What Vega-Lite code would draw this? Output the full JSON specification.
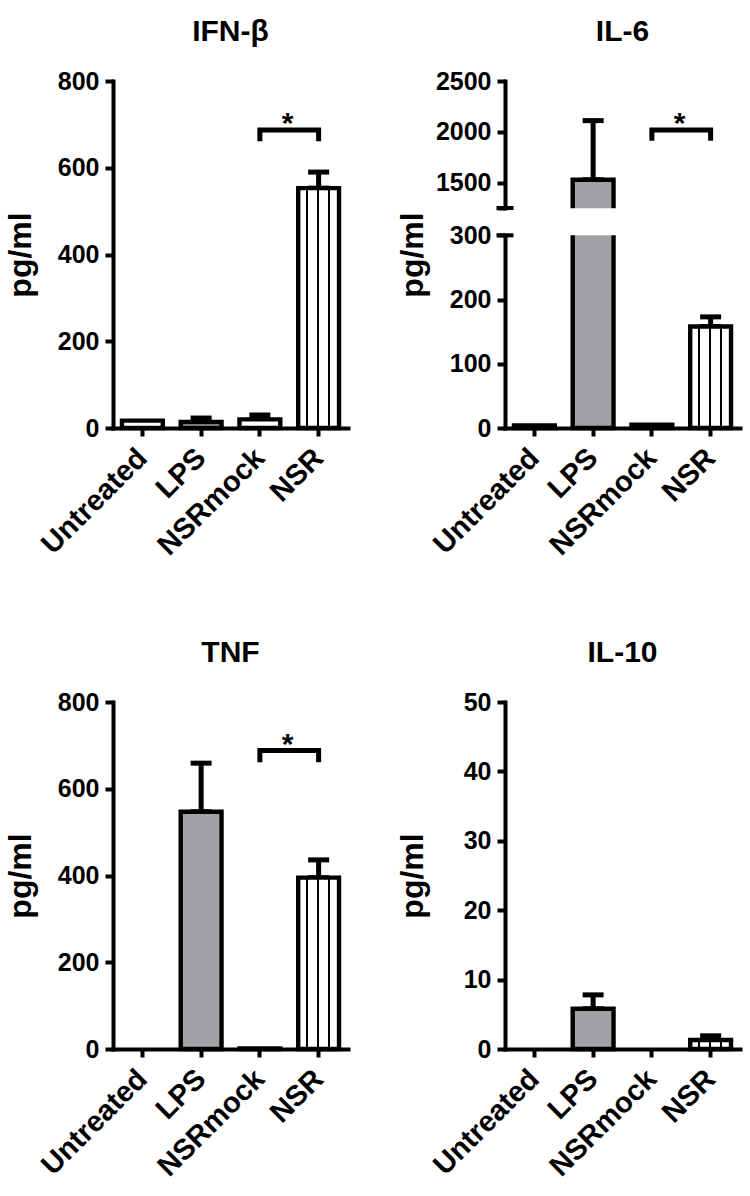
{
  "$schema": "https://vega.github.io/schema/vega-lite/v6.json",
  "padding": {"left": 4, "top": 17, "right": 5, "bottom": 5},
  "columns": 2,
  "spacing": {"column": 48, "row": 77},
  "datasets": {
    "bars": [
      {"panel": "IFN", "group": "Untreated", "value": 17, "hi": null},
      {"panel": "IFN", "group": "LPS", "value": 14, "hi": 23},
      {"panel": "IFN", "group": "NSRmock", "value": 20, "hi": 30},
      {"panel": "IFN", "group": "NSR", "value": 553, "hi": 590},
      {"panel": "IL6", "group": "Untreated", "value": 4, "hi": null},
      {"panel": "IL6", "group": "LPS", "value": 1528, "hi": 2110},
      {"panel": "IL6", "group": "NSRmock", "value": 5, "hi": null},
      {"panel": "IL6", "group": "NSR", "value": 158, "hi": 173},
      {"panel": "TNF", "group": "Untreated", "value": 0, "hi": null},
      {"panel": "TNF", "group": "LPS", "value": 547, "hi": 659},
      {"panel": "TNF", "group": "NSRmock", "value": 1, "hi": null},
      {"panel": "TNF", "group": "NSR", "value": 395, "hi": 436},
      {"panel": "IL10", "group": "Untreated", "value": 0, "hi": null},
      {"panel": "IL10", "group": "LPS", "value": 5.8, "hi": 7.8},
      {"panel": "IL10", "group": "NSRmock", "value": 0, "hi": null},
      {"panel": "IL10", "group": "NSR", "value": 1.3, "hi": 1.9}
    ],
    "brackets": [
      {"panel": "IFN", "group": "NSRmock", "value": 661, "step": 1},
      {"panel": "IFN", "group": "NSRmock", "value": 687, "step": 2},
      {"panel": "IFN", "group": "NSR", "value": 687, "step": 3},
      {"panel": "IFN", "group": "NSR", "value": 661, "step": 4},
      {"panel": "IL6", "group": "NSRmock", "value": 1911, "step": 1},
      {"panel": "IL6", "group": "NSRmock", "value": 2017, "step": 2},
      {"panel": "IL6", "group": "NSR", "value": 2017, "step": 3},
      {"panel": "IL6", "group": "NSR", "value": 1911, "step": 4},
      {"panel": "TNF", "group": "NSRmock", "value": 661, "step": 1},
      {"panel": "TNF", "group": "NSRmock", "value": 688, "step": 2},
      {"panel": "TNF", "group": "NSR", "value": 688, "step": 3},
      {"panel": "TNF", "group": "NSR", "value": 661, "step": 4}
    ],
    "stars": [
      {"panel": "IFN", "group": "NSR", "value": 687, "label": "*"},
      {"panel": "IL6", "group": "NSR", "value": 2017, "label": "*"},
      {"panel": "TNF", "group": "NSR", "value": 688, "label": "*"}
    ],
    "breaks": [
      {"panel": "IL6", "value": 300},
      {"panel": "IL6", "value": 1250}
    ]
  },
  "concat": [
    {
      "title": "IFN-β",
      "width": 235,
      "height": 347,
      "encoding": {
        "y": {"field": "value", "type": "quantitative", "scale": {"domain": [0, 800], "nice": false, "zero": false}, "axis": {"title": "pg/ml", "values": [0, 200, 400, 600, 800], "format": "d"}}
      },
      "layer": [
        {"data": {"name": "bars"}, "transform": [{"filter": "datum.panel == 'IFN' && isValid(datum.hi)"}],
         "mark": {"type": "errorbar", "color": "black", "thickness": 5, "size": 21, "ticks": {"color": "black", "opacity": 1}, "rule": {"color": "black", "opacity": 1}},
         "encoding": {"x": {"field": "group", "type": "nominal", "scale": {"domain": ["Untreated", "LPS", "NSRmock", "NSR"], "paddingInner": 0.305, "paddingOuter": 0.1525}, "axis": {"title": null}}, "y2": {"field": "hi"}}},
        {"data": {"name": "bars"}, "transform": [{"filter": "datum.panel == 'IFN'"}],
         "mark": {"type": "bar", "stroke": "black"},
         "encoding": {
           "x": {"field": "group", "type": "nominal", "scale": {"domain": ["Untreated", "LPS", "NSRmock", "NSR"], "paddingInner": 0.305, "paddingOuter": 0.1525}, "axis": {"title": null}},
           "fill": {"condition": {"test": "datum.group == 'NSR'", "value": {"gradient": "linear", "x1": 0, "y1": 0, "x2": 1, "y2": 0, "stops": [{"offset": 0, "color": "#ffffff"}, {"offset": 0.19, "color": "#ffffff"}, {"offset": 0.19, "color": "#000000"}, {"offset": 0.23, "color": "#000000"}, {"offset": 0.23, "color": "#ffffff"}, {"offset": 0.46, "color": "#ffffff"}, {"offset": 0.46, "color": "#000000"}, {"offset": 0.5, "color": "#000000"}, {"offset": 0.5, "color": "#ffffff"}, {"offset": 0.73, "color": "#ffffff"}, {"offset": 0.73, "color": "#000000"}, {"offset": 0.77, "color": "#000000"}, {"offset": 0.77, "color": "#ffffff"}, {"offset": 1, "color": "#ffffff"}]}}, "field": "group", "type": "nominal", "scale": {"domain": ["Untreated", "LPS", "NSRmock", "NSR"], "range": ["#ffffff", "#a2a2a6", "#ffffff", "#ffffff"]}, "legend": null},
           "strokeWidth": {"condition": {"test": "datum.value == 0", "value": 0}, "value": 4.4}
         }},
        {"data": {"name": "brackets"}, "transform": [{"filter": "datum.panel == 'IFN'"}],
         "mark": {"type": "line", "color": "black", "strokeWidth": 5, "strokeJoin": "miter", "strokeCap": "butt"},
         "encoding": {"x": {"field": "group", "type": "nominal", "scale": {"domain": ["Untreated", "LPS", "NSRmock", "NSR"], "paddingInner": 0.305, "paddingOuter": 0.1525}, "axis": {"title": null}}, "order": {"field": "step"}}},
        {"data": {"name": "stars"}, "transform": [{"filter": "datum.panel == 'IFN'"}],
         "mark": {"type": "text", "fontSize": 30, "fontWeight": "bold", "font": "Liberation Sans", "baseline": "alphabetic", "dy": 3, "xOffset": -31, "color": "black"},
         "encoding": {"x": {"field": "group", "type": "nominal", "scale": {"domain": ["Untreated", "LPS", "NSRmock", "NSR"], "paddingInner": 0.305, "paddingOuter": 0.1525}, "axis": {"title": null}}, "text": {"field": "label"}}}
      ]
    },
    {
      "title": "IL-6",
      "width": 235,
      "height": 347,
      "encoding": {
        "y": {"field": "value", "type": "quantitative", "scale": {"domain": [0, 300, 1250, 2500], "range": [347, 154.3, 127, 0], "nice": false, "zero": false}, "axis": {"title": "pg/ml", "values": [0, 100, 200, 300, 1250, 1500, 2000, 2500], "format": "d", "labelExpr": "datum.value == 1250 ? '' : datum.label", "domainDash": [192.7, 27.3, 400]}}
      },
      "layer": [
        {"data": {"name": "bars"}, "transform": [{"filter": "datum.panel == 'IL6' && isValid(datum.hi)"}],
         "mark": {"type": "errorbar", "color": "black", "thickness": 5, "size": 21, "ticks": {"color": "black", "opacity": 1}, "rule": {"color": "black", "opacity": 1}},
         "encoding": {"x": {"field": "group", "type": "nominal", "scale": {"domain": ["Untreated", "LPS", "NSRmock", "NSR"], "paddingInner": 0.305, "paddingOuter": 0.1525}, "axis": {"title": null}}, "y2": {"field": "hi"}}},
        {"data": {"name": "bars"}, "transform": [{"filter": "datum.panel == 'IL6'"}],
         "mark": {"type": "bar", "stroke": "black"},
         "encoding": {
           "x": {"field": "group", "type": "nominal", "scale": {"domain": ["Untreated", "LPS", "NSRmock", "NSR"], "paddingInner": 0.305, "paddingOuter": 0.1525}, "axis": {"title": null}},
           "fill": {"condition": {"test": "datum.group == 'NSR'", "value": {"gradient": "linear", "x1": 0, "y1": 0, "x2": 1, "y2": 0, "stops": [{"offset": 0, "color": "#ffffff"}, {"offset": 0.19, "color": "#ffffff"}, {"offset": 0.19, "color": "#000000"}, {"offset": 0.23, "color": "#000000"}, {"offset": 0.23, "color": "#ffffff"}, {"offset": 0.46, "color": "#ffffff"}, {"offset": 0.46, "color": "#000000"}, {"offset": 0.5, "color": "#000000"}, {"offset": 0.5, "color": "#ffffff"}, {"offset": 0.73, "color": "#ffffff"}, {"offset": 0.73, "color": "#000000"}, {"offset": 0.77, "color": "#000000"}, {"offset": 0.77, "color": "#ffffff"}, {"offset": 1, "color": "#ffffff"}]}}, "field": "group", "type": "nominal", "scale": {"domain": ["Untreated", "LPS", "NSRmock", "NSR"], "range": ["#ffffff", "#a2a2a6", "#ffffff", "#ffffff"]}, "legend": null},
           "strokeWidth": {"condition": {"test": "datum.value == 0", "value": 0}, "value": 4.4}
         }},
        {"data": {"name": "bars"}, "transform": [{"filter": "datum.panel == 'IL6' && datum.group == 'LPS'"}],
         "mark": {"type": "bar", "fill": "white", "stroke": "white", "strokeWidth": 8},
         "encoding": {
           "x": {"field": "group", "type": "nominal", "scale": {"domain": ["Untreated", "LPS", "NSRmock", "NSR"], "paddingInner": 0.305, "paddingOuter": 0.1525}, "axis": {"title": null}},
           "y": {"datum": 439, "type": "quantitative"},
           "y2": {"datum": 1100}
         }},
        {"data": {"name": "breaks"},
         "mark": {"type": "tick", "color": "black", "opacity": 1, "thickness": 4, "size": 17, "xOffset": -29.4},
         "encoding": {"x": {"datum": "Untreated", "type": "nominal", "scale": {"domain": ["Untreated", "LPS", "NSRmock", "NSR"], "paddingInner": 0.305, "paddingOuter": 0.1525}, "axis": {"title": null}}}},
        {"data": {"name": "brackets"}, "transform": [{"filter": "datum.panel == 'IL6'"}],
         "mark": {"type": "line", "color": "black", "strokeWidth": 5, "strokeJoin": "miter", "strokeCap": "butt"},
         "encoding": {"x": {"field": "group", "type": "nominal", "scale": {"domain": ["Untreated", "LPS", "NSRmock", "NSR"], "paddingInner": 0.305, "paddingOuter": 0.1525}, "axis": {"title": null}}, "order": {"field": "step"}}},
        {"data": {"name": "stars"}, "transform": [{"filter": "datum.panel == 'IL6'"}],
         "mark": {"type": "text", "fontSize": 30, "fontWeight": "bold", "font": "Liberation Sans", "baseline": "alphabetic", "dy": 3, "xOffset": -31, "color": "black"},
         "encoding": {"x": {"field": "group", "type": "nominal", "scale": {"domain": ["Untreated", "LPS", "NSRmock", "NSR"], "paddingInner": 0.305, "paddingOuter": 0.1525}, "axis": {"title": null}}, "text": {"field": "label"}}}
      ]
    },
    {
      "title": "TNF",
      "width": 235,
      "height": 347,
      "encoding": {
        "y": {"field": "value", "type": "quantitative", "scale": {"domain": [0, 800], "nice": false, "zero": false}, "axis": {"title": "pg/ml", "values": [0, 200, 400, 600, 800], "format": "d"}}
      },
      "layer": [
        {"data": {"name": "bars"}, "transform": [{"filter": "datum.panel == 'TNF' && isValid(datum.hi)"}],
         "mark": {"type": "errorbar", "color": "black", "thickness": 5, "size": 21, "ticks": {"color": "black", "opacity": 1}, "rule": {"color": "black", "opacity": 1}},
         "encoding": {"x": {"field": "group", "type": "nominal", "scale": {"domain": ["Untreated", "LPS", "NSRmock", "NSR"], "paddingInner": 0.305, "paddingOuter": 0.1525}, "axis": {"title": null}}, "y2": {"field": "hi"}}},
        {"data": {"name": "bars"}, "transform": [{"filter": "datum.panel == 'TNF'"}],
         "mark": {"type": "bar", "stroke": "black"},
         "encoding": {
           "x": {"field": "group", "type": "nominal", "scale": {"domain": ["Untreated", "LPS", "NSRmock", "NSR"], "paddingInner": 0.305, "paddingOuter": 0.1525}, "axis": {"title": null}},
           "fill": {"condition": {"test": "datum.group == 'NSR'", "value": {"gradient": "linear", "x1": 0, "y1": 0, "x2": 1, "y2": 0, "stops": [{"offset": 0, "color": "#ffffff"}, {"offset": 0.19, "color": "#ffffff"}, {"offset": 0.19, "color": "#000000"}, {"offset": 0.23, "color": "#000000"}, {"offset": 0.23, "color": "#ffffff"}, {"offset": 0.46, "color": "#ffffff"}, {"offset": 0.46, "color": "#000000"}, {"offset": 0.5, "color": "#000000"}, {"offset": 0.5, "color": "#ffffff"}, {"offset": 0.73, "color": "#ffffff"}, {"offset": 0.73, "color": "#000000"}, {"offset": 0.77, "color": "#000000"}, {"offset": 0.77, "color": "#ffffff"}, {"offset": 1, "color": "#ffffff"}]}}, "field": "group", "type": "nominal", "scale": {"domain": ["Untreated", "LPS", "NSRmock", "NSR"], "range": ["#ffffff", "#a2a2a6", "#ffffff", "#ffffff"]}, "legend": null},
           "strokeWidth": {"condition": {"test": "datum.value == 0", "value": 0}, "value": 4.4}
         }},
        {"data": {"name": "brackets"}, "transform": [{"filter": "datum.panel == 'TNF'"}],
         "mark": {"type": "line", "color": "black", "strokeWidth": 5, "strokeJoin": "miter", "strokeCap": "butt"},
         "encoding": {"x": {"field": "group", "type": "nominal", "scale": {"domain": ["Untreated", "LPS", "NSRmock", "NSR"], "paddingInner": 0.305, "paddingOuter": 0.1525}, "axis": {"title": null}}, "order": {"field": "step"}}},
        {"data": {"name": "stars"}, "transform": [{"filter": "datum.panel == 'TNF'"}],
         "mark": {"type": "text", "fontSize": 30, "fontWeight": "bold", "font": "Liberation Sans", "baseline": "alphabetic", "dy": 3, "xOffset": -31, "color": "black"},
         "encoding": {"x": {"field": "group", "type": "nominal", "scale": {"domain": ["Untreated", "LPS", "NSRmock", "NSR"], "paddingInner": 0.305, "paddingOuter": 0.1525}, "axis": {"title": null}}, "text": {"field": "label"}}}
      ]
    },
    {
      "title": "IL-10",
      "width": 235,
      "height": 347,
      "encoding": {
        "y": {"field": "value", "type": "quantitative", "scale": {"domain": [0, 50], "nice": false, "zero": false}, "axis": {"title": "pg/ml", "values": [0, 10, 20, 30, 40, 50], "format": "d"}}
      },
      "layer": [
        {"data": {"name": "bars"}, "transform": [{"filter": "datum.panel == 'IL10' && isValid(datum.hi)"}],
         "mark": {"type": "errorbar", "color": "black", "thickness": 5, "size": 21, "ticks": {"color": "black", "opacity": 1}, "rule": {"color": "black", "opacity": 1}},
         "encoding": {"x": {"field": "group", "type": "nominal", "scale": {"domain": ["Untreated", "LPS", "NSRmock", "NSR"], "paddingInner": 0.305, "paddingOuter": 0.1525}, "axis": {"title": null}}, "y2": {"field": "hi"}}},
        {"data": {"name": "bars"}, "transform": [{"filter": "datum.panel == 'IL10'"}],
         "mark": {"type": "bar", "stroke": "black"},
         "encoding": {
           "x": {"field": "group", "type": "nominal", "scale": {"domain": ["Untreated", "LPS", "NSRmock", "NSR"], "paddingInner": 0.305, "paddingOuter": 0.1525}, "axis": {"title": null}},
           "fill": {"condition": {"test": "datum.group == 'NSR'", "value": {"gradient": "linear", "x1": 0, "y1": 0, "x2": 1, "y2": 0, "stops": [{"offset": 0, "color": "#ffffff"}, {"offset": 0.19, "color": "#ffffff"}, {"offset": 0.19, "color": "#000000"}, {"offset": 0.23, "color": "#000000"}, {"offset": 0.23, "color": "#ffffff"}, {"offset": 0.46, "color": "#ffffff"}, {"offset": 0.46, "color": "#000000"}, {"offset": 0.5, "color": "#000000"}, {"offset": 0.5, "color": "#ffffff"}, {"offset": 0.73, "color": "#ffffff"}, {"offset": 0.73, "color": "#000000"}, {"offset": 0.77, "color": "#000000"}, {"offset": 0.77, "color": "#ffffff"}, {"offset": 1, "color": "#ffffff"}]}}, "field": "group", "type": "nominal", "scale": {"domain": ["Untreated", "LPS", "NSRmock", "NSR"], "range": ["#ffffff", "#a2a2a6", "#ffffff", "#ffffff"]}, "legend": null},
           "strokeWidth": {"condition": {"test": "datum.value == 0", "value": 0}, "value": 4.4}
         }}
      ]
    }
  ],
  "config": {
    "view": {"stroke": null},
    "font": "Liberation Sans",
    "axis": {
      "grid": false,
      "domainColor": "black",
      "domainWidth": 4,
      "domainCap": "square",
      "tickColor": "black",
      "tickWidth": 4,
      "tickSize": 8,
      "labelColor": "black",
      "labelFont": "Liberation Sans",
      "labelFontWeight": "bold",
      "labelFontSize": 25,
      "labelPadding": 6,
      "titleColor": "black",
      "titleFont": "Liberation Sans",
      "titleFontWeight": "bold",
      "titleFontSize": 32,
      "zindex": 0
    },
    "axisY": {"minExtent": 60, "maxExtent": 60, "titlePadding": 16},
    "axisX": {"labelFontSize": 29, "labelAngle": -45, "labelAlign": "right", "labelBaseline": "middle", "labelPadding": 17},
    "title": {"font": "Liberation Sans", "fontSize": 30, "fontWeight": "bold", "color": "black", "anchor": "middle", "offset": 22}
  }
}
